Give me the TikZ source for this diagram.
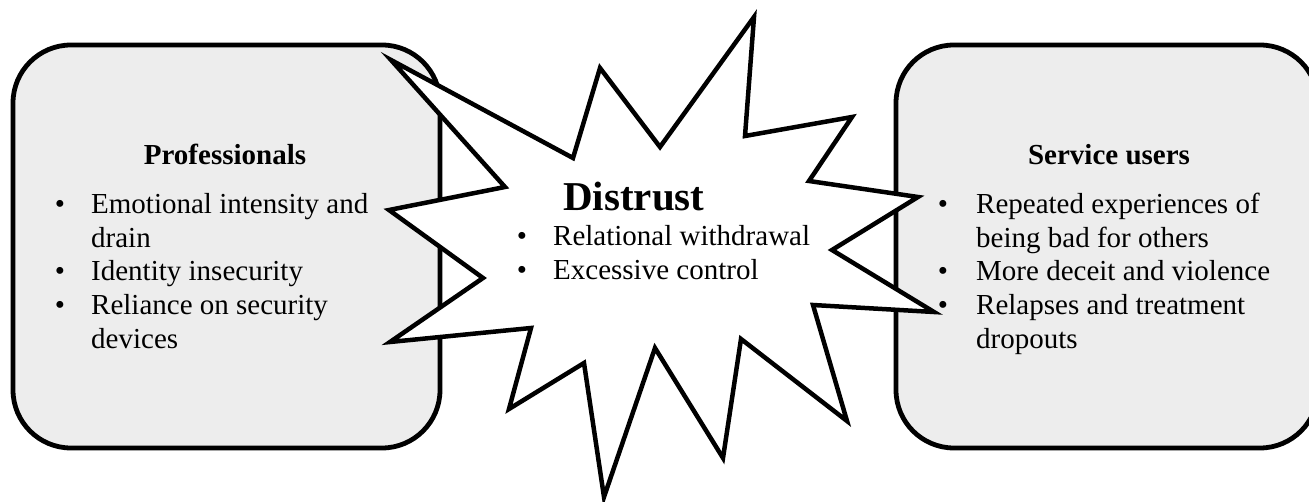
\documentclass[tikz,border=0pt]{standalone}
\usepackage{fontspec}
\setmainfont{Liberation Serif}
\definecolor{boxgray}{RGB}{237,237,237}
\begin{document}
\begin{tikzpicture}[x=1pt,y=-1pt,
  box/.style={draw=black,line width=4.8pt,fill=boxgray,rounded corners=58pt},
  burst/.style={draw=black,line width=4.5pt,fill=white,line join=miter,miter limit=20},
  txt/.style={inner sep=0pt,font=\fontsize{29}{34}\selectfont},
  head/.style={inner sep=0pt,font=\fontsize{29}{34}\selectfont\bfseries},
  big/.style={inner sep=0pt,font=\fontsize{41}{41}\selectfont\bfseries}]
\useasboundingbox (0,0) rectangle (1309,502);
% boxes
\draw[box] (13,45) rectangle (440,448);
\draw[box] (896,45) rectangle (1318,448);
% burst
\draw[burst] (391,60) -- (573,158) -- (600,68) -- (660,147) -- (754,17)
  -- (745,136) -- (852,117) -- (809,181) -- (918,197) -- (832,250)
  -- (934,312) -- (813,305) -- (847,421) -- (741,339) -- (723,458)
  -- (655,348) -- (604,497) -- (584,363) -- (509,409) -- (531,328)
  -- (390,342) -- (483,278) -- (389,210) -- (505,187) -- cycle;
% left texts
\node[head,anchor=base] (ph) at (225,165) {Professionals};
\node[txt,anchor=base] (pb1) at (60,214) {•};
\node[txt,anchor=base west] (p1) at (91,214) {Emotional intensity and};
\node[txt,anchor=base west] (p1b) at (91,248) {drain};
\node[txt,anchor=base] (pb2) at (60,281) {•};
\node[txt,anchor=base west] (p2) at (91,281) {Identity insecurity};
\node[txt,anchor=base] (pb3) at (60,315) {•};
\node[txt,anchor=base west] (p3) at (91,315) {Reliance on security};
\node[txt,anchor=base west] (p3b) at (91,349) {devices};
% middle texts
\node[big,anchor=base west] (dh) at (563,211) {Distrust};
\node[txt,anchor=base] (db1) at (522,246) {•};
\node[txt,anchor=base west] (d1) at (553,246) {Relational withdrawal};
\node[txt,anchor=base] (db2) at (522,280) {•};
\node[txt,anchor=base west] (d2) at (553,280) {Excessive control};
% right texts
\node[head,anchor=base] (sh) at (1109,165) {Service users};
\node[txt,anchor=base] (sb1) at (943,214) {•};
\node[txt,anchor=base west] (s1) at (976,214) {Repeated experiences of};
\node[txt,anchor=base west] (s1b) at (976,248) {being bad for others};
\node[txt,anchor=base] (sb2) at (943,281) {•};
\node[txt,anchor=base west] (s2) at (976,281) {More deceit and violence};
\node[txt,anchor=base] (sb3) at (943,315) {•};
\node[txt,anchor=base west] (s3) at (976,315) {Relapses and treatment};
\node[txt,anchor=base west] (s3b) at (976,349) {dropouts};
\end{tikzpicture}
\end{document}
